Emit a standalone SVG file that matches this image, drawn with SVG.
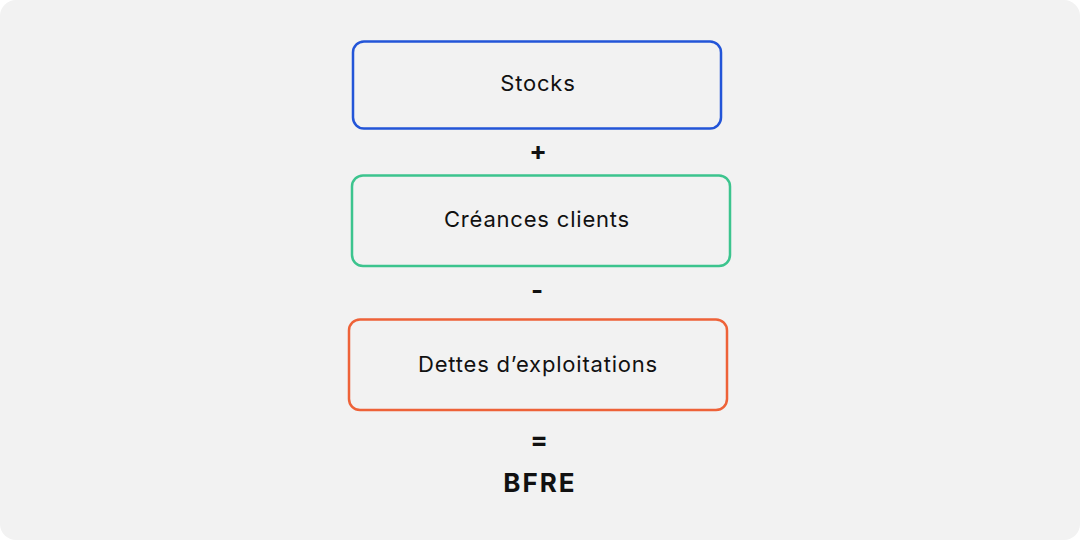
<svg xmlns="http://www.w3.org/2000/svg" width="1080" height="540" viewBox="0 0 1080 540">
<style>
.box{fill:none;stroke-width:2.5}
.lbl{font-family:Inter,"Liberation Sans",sans-serif;font-size:22px;letter-spacing:0.8px;fill:#111;text-anchor:middle}
.op{font-family:Inter,"Liberation Sans",sans-serif;font-size:26px;font-weight:700;fill:#111;text-anchor:middle}
.res{font-family:Inter,"Liberation Sans",sans-serif;font-size:26px;font-weight:700;letter-spacing:2px;fill:#111;text-anchor:middle}
</style>
<rect x="0" y="0" width="1080" height="540" fill="#fff"/>
<rect x="0" y="0" width="1080" height="540" rx="16" fill="#f2f2f2"/>
<g id="stocks">
<rect class="box" x="353" y="41.5" width="368" height="87" rx="11" stroke="#2355d8"/>
<text class="lbl" x="538" y="91">Stocks</text>
</g>
<g id="creances">
<rect class="box" x="352" y="175.5" width="378" height="90.5" rx="11" stroke="#3cc48e"/>
<text class="lbl" x="537" y="227">Créances clients</text>
</g>
<g id="dettes">
<rect class="box" x="349" y="319.5" width="378" height="90.5" rx="11" stroke="#ee6238"/>
<text class="lbl" x="538" y="372">Dettes d’exploitations</text>
</g>
<g id="connectors">
<text class="op" x="538" y="160">+</text>
<text class="op" x="537" y="299">-</text>
<text class="op" x="539" y="449">=</text>
</g>
<g id="bfre">
<text class="res" x="540" y="492">BFRE</text>
</g>
</svg>
